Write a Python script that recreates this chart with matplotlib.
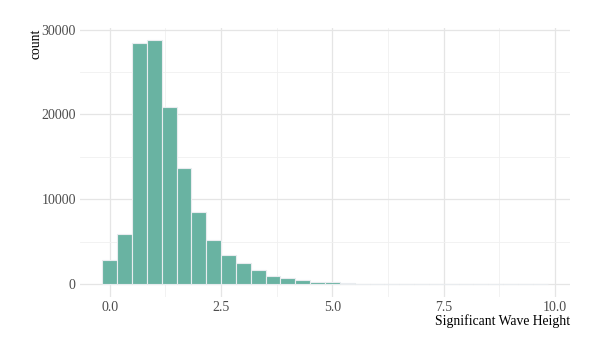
import numpy as np
import matplotlib.pyplot as plt

# histogram bins (ggplot default 30 bins), centres and counts
bin_width = 1 / 3
bin_centres = np.arange(30) * bin_width
counts = [2870, 5940, 28430, 28740, 20840, 13720, 8490, 5230, 3460, 2440,
          1690, 980, 710, 550, 310, 200, 110, 55, 30, 20,
          12, 8, 6, 4, 3, 2, 2, 1, 1, 1]

x_ticks = [0.0, 2.5, 5.0, 7.5, 10.0]
y_ticks = [0, 10000, 20000, 30000]

plt.rcParams['font.family'] = ['Liberation Serif', 'DejaVu Serif']

fig = plt.figure(figsize=(5.98, 3.55), dpi=100)
ax = fig.add_axes([80 / 598, 1 - 297 / 355, 490 / 598, 269 / 355])

ax.bar(bin_centres, counts, width=bin_width, color='#69b3a2',
       edgecolor='#e9ecef', linewidth=0.8, zorder=3)

ax.set_xlim(-0.667, 10.333)
ax.set_ylim(-1509, 30177)
ax.set_xticks(x_ticks)
ax.set_xticklabels([f'{t:.1f}' for t in x_ticks])
ax.set_yticks(y_ticks)
ax.set_xticks([1.25, 3.75, 6.25, 8.75], minor=True)
ax.set_yticks([5000, 15000, 25000], minor=True)

ax.grid(True, which='major', color='#e5e5e5', linewidth=0.9, zorder=0)
ax.grid(True, which='minor', color='#f0f0f0', linewidth=0.6, zorder=0)
for s in ax.spines.values():
    s.set_visible(False)
ax.tick_params(which='both', length=0, labelsize=10, labelcolor='#4d4d4d', pad=3)

ax.set_xlabel('Significant Wave Height', fontsize=9.8, loc='right', labelpad=0)
ax.set_ylabel('count', fontsize=9.8, loc='top', labelpad=-1)
ax.yaxis.label.set_y(0.997)

fig.savefig('out.png', dpi=100)
